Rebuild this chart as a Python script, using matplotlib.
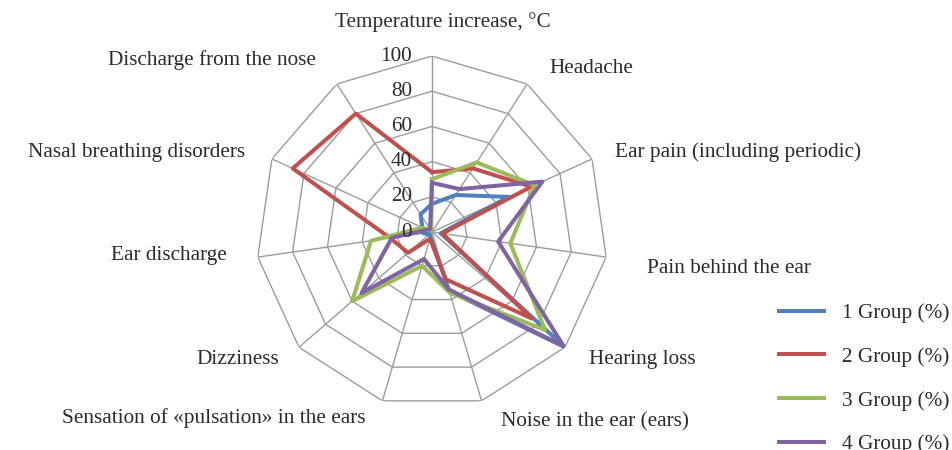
import numpy as np
import matplotlib
matplotlib.use("Agg")
import matplotlib.pyplot as plt

categories = ["Temperature increase, °C", "Headache", "Ear pain (including periodic)",
              "Pain behind the ear", "Hearing loss", "Noise in the ear (ears)",
              "Sensation of «pulsation» in the ears", "Dizziness", "Ear discharge",
              "Nasal breathing disorders", "Discharge from the nose"]
group1 = [16, 25, 48, 5, 100, 35, 3, 2, 5, 6, 12]
group2 = [34, 43, 62, 6, 75, 28, 4, 18, 24, 87, 80]
group3 = [30, 47, 64, 45, 85, 36, 20, 60, 35, 6, 1]
group4 = [28, 29, 69, 38, 99, 34, 16, 53, 23, 3, 2]
series_names = ["1 Group (%)", "2 Group (%)", "3 Group (%)", "4 Group (%)"]
r_ticks = [0, 20, 40, 60, 80, 100]

colors = ["#4F81BD", "#C0504D", "#9BBB59", "#8064A2"]
plt.rcParams['font.family'] = ['Liberation Serif', 'DejaVu Serif']
FS = 15.3
TXT = "#2b2b2b"

fig = plt.figure(figsize=(9.52, 4.5), dpi=100)
ax = fig.add_axes([0.2689, 0.0933, 0.3697, 0.7822], projection='polar')
ax.set_theta_offset(np.pi / 2)
ax.set_theta_direction(-1)
ax.set_ylim(0, 100)
ax.grid(False)
ax.spines['polar'].set_visible(False)
ax.set_xticks([])
ax.set_yticks([])
ax.patch.set_alpha(0)

n = len(categories)
theta = np.linspace(0, 2 * np.pi, n, endpoint=False)
theta_c = np.append(theta, theta[0])

# polygon grid
for rv in r_ticks[1:]:
    ax.plot(theta_c, [rv] * (n + 1), color="#9C9C9C", lw=1, zorder=1)
for t in theta:
    ax.plot([t, t], [0, 100], color="#9C9C9C", lw=1, zorder=1)

for vals, name, c in zip([group1, group2, group3, group4], series_names, colors):
    ax.plot(theta_c, vals + [vals[0]], color=c, lw=2.9, label=name, zorder=3)

# radial tick labels left of the top spoke
for rv in r_ticks:
    ax.annotate(str(rv), xy=(0, rv), xytext=(-20, 0), textcoords='offset pixels',
                ha='right', va='center', fontsize=FS, color=TXT, zorder=4)

# category labels (angle in degrees clockwise from top, radius in data units)
label_pos = [(2.9, 119.5), (44.3, 130), (75.3, 180), (97, 170), (121.2, 140), (139.4, 142),
             (229.6, 163), (236.7, 132), (264.8, 150), (285.1, 174), (308, 159)]
for cat, (deg, rr) in zip(categories, label_pos):
    ax.text(np.deg2rad(deg), rr, cat, ha='center', va='center', fontsize=FS,
            color=TXT, clip_on=False)

fig.legend(loc='upper left', bbox_to_anchor=(0.818, 0.326), frameon=False,
           fontsize=FS, handlelength=2.12, handletextpad=0.85, labelspacing=1.12,
           borderpad=0, borderaxespad=0, labelcolor=TXT)

fig.savefig("out.png", dpi=100)
